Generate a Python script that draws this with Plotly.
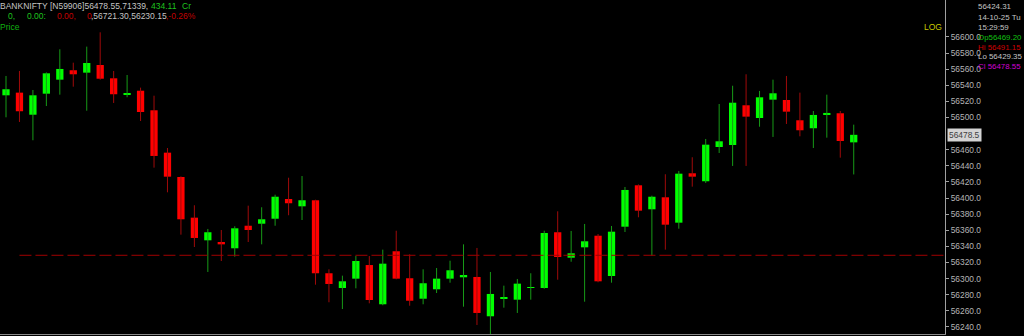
import plotly.graph_objects as go

# ---- data ----
opens = [56527.6, 56530.9, 56503.5, 56529.6, 56547.0, 56558.7, 56555.7, 56565.2, 56548.7, 56528.4,
         56533.3, 56509.0, 56456.4, 56426.2, 56375.7, 56347.6, 56345.5, 56337.7, 56365.7, 56368.2,
         56374.4, 56398.9, 56389.8, 56397.3, 56306.7, 56288.4, 56300.0, 56316.9, 56268.2, 56334.0,
         56300.5, 56275.1, 56286.8, 56300.0, 56301.7, 56302.1, 56253.3, 56275.6, 56273.9, 56288.4,
         56288.4, 56357.6, 56326.0, 56338.9, 56353.3, 56303.3, 56364.5, 56415.9, 56386.1, 56401.0,
         56369.5, 56430.8, 56420.9, 56463.4, 56465.9, 56515.2, 56499.4, 56522.2, 56521.8, 56496.6,
         56486.7, 56504.0, 56505.3, 56469.20]
highs = [56551.6, 56557.8, 56534.2, 56556.0, 56584.7, 56568.1, 56588.0, 56605.8, 56557.8, 56552.8,
         56537.1, 56527.1, 56462.2, 56427.0, 56391.1, 56361.7, 56360.4, 56365.0, 56390.6, 56388.6,
         56404.2, 56425.3, 56427.4, 56398.0, 56311.6, 56303.7, 56328.1, 56328.1, 56336.0, 56359.5,
         56330.2, 56311.6, 56313.2, 56322.3, 56342.6, 56338.1, 56308.3, 56291.3, 56299.6, 56306.7,
         56359.5, 56383.6, 56359.2, 56367.9, 56355.4, 56365.4, 56413.8, 56417.0, 56403.0, 56429.6,
         56433.7, 56450.7, 56473.4, 56516.8, 56539.5, 56553.7, 56533.0, 56547.0, 56551.6, 56530.9,
         56508.1, 56528.4, 56508.1, 56491.15]
lows = [56500.3, 56494.5, 56471.8, 56514.3, 56528.4, 56538.3, 56508.5, 56547.0, 56518.1, 56525.2,
        56495.7, 56437.8, 56407.2, 56354.6, 56339.3, 56308.3, 56321.9, 56327.3, 56345.5, 56342.6,
        56365.7, 56378.7, 56372.8, 56292.5, 56270.7, 56262.3, 56288.0, 56269.4, 56267.0, 56299.2,
        56266.4, 56268.2, 56282.2, 56295.0, 56265.2, 56242.5, 56231.3, 56264.0, 56257.4, 56273.9,
        56287.5, 56298.7, 56321.0, 56271.4, 56295.5, 56295.0, 56357.9, 56376.2, 56328.5, 56336.0,
        56362.0, 56414.2, 56418.8, 56456.0, 56439.9, 56439.9, 56488.6, 56475.9, 56492.0, 56476.7,
        56462.2, 56475.0, 56450.2, 56429.35]
closes = [56535.1, 56507.8, 56527.6, 56554.9, 56560.3, 56553.7, 56567.7, 56548.2, 56528.9, 56530.5,
          56506.9, 56452.3, 56426.6, 56373.7, 56350.5, 56357.6, 56342.6, 56362.5, 56360.4, 56373.7,
          56401.7, 56393.6, 56397.3, 56306.7, 56293.4, 56296.7, 56321.9, 56273.5, 56318.6, 56300.0,
          56272.6, 56294.3, 56300.0, 56310.4, 56304.5, 56257.4, 56281.0, 56276.4, 56293.8, 56289.6,
          56356.7, 56326.9, 56331.5, 56346.4, 56296.7, 56358.3, 56410.1, 56384.4, 56401.7, 56367.0,
          56430.3, 56426.6, 56466.3, 56470.5, 56518.4, 56501.1, 56525.1, 56530.1, 56507.3, 56484.2,
          56503.2, 56505.7, 56470.9, 56478.55]

level_price = 56329.0          # dashed horizontal level
level_start = 1                # candle index where it starts
price_ticks = [56240, 56260, 56280, 56300, 56320, 56340, 56360, 56380, 56400, 56420,
               56440, 56460, 56500, 56520, 56540, 56560, 56580, 56600]

header_line1 = "BANKNIFTY [N59906]56478.55,71339,"
header_turnover = "434.11"
header_cr = "Cr"
info_last = "56424.31"
info_date = "14-10-25 Tu"
info_time = "15:29:59"
info_open = "Op56469.20"
info_high = "Hi 56491.15"
info_low = "Lo 56429.35"
info_close = "Cl 56478.55"
last_label = "56478.5"

# ---- figure geometry ----
W, H = 1024, 336
PL, PR, PT, PB = 0, 945, 0, 334   # plot area in pixels
n = len(opens)
idx = list(range(n))
UP_BODY, DN_BODY = "#00ff00", "#ff0000"
UP_WICK, DN_WICK = "#179a17", "#a00a0a"

fig = go.Figure()

# wicks
for up, col in ((True, UP_WICK), (False, DN_WICK)):
    xs, ys = [], []
    for i in idx:
        if (closes[i] >= opens[i]) == up:
            xs += [i, i, None]
            ys += [lows[i], highs[i], None]
    fig.add_trace(go.Scatter(x=xs, y=ys, mode="lines", line=dict(color=col, width=1),
                             hoverinfo="skip", showlegend=False))

# bodies
fig.add_trace(go.Bar(
    x=idx,
    base=[min(o, c) for o, c in zip(opens, closes)],
    y=[max(abs(c - o), 1.2) for o, c in zip(opens, closes)],
    width=0.54,
    marker=dict(color=[UP_BODY if c >= o else DN_BODY for o, c in zip(opens, closes)],
                line=dict(width=0)),
    showlegend=False, hoverinfo="skip"))

# dashed level line
fig.add_trace(go.Scatter(x=[level_start, n + 8], y=[level_price, level_price], mode="lines",
                         line=dict(color="#a00000", width=1, dash="12px,4px"),
                         hoverinfo="skip", showlegend=False))

px_per_unit = 13.456
x0 = 6.0
xr = [(PL - x0) / px_per_unit, (PR - x0) / px_per_unit]
yr = [56231.3, 56645.9]

fig.update_layout(
    width=W, height=H,
    margin=dict(l=PL, r=W - PR, t=PT, b=H - PB, pad=0),
    paper_bgcolor="black", plot_bgcolor="black",
    showlegend=False,
    font=dict(family="Liberation Sans, Arial, sans-serif"),
    xaxis=dict(range=xr, showgrid=False, zeroline=False, showticklabels=False, ticks="",
               showline=True, linecolor="#8a8a8a", linewidth=1, mirror=False, fixedrange=True),
    yaxis=dict(range=yr, side="right", showgrid=False, zeroline=False,
               showline=True, linecolor="#a0a0a0", linewidth=1,
               ticks="outside", ticklen=3, tickcolor="#a0a0a0",
               tickvals=price_ticks, ticktext=[f"{t:.1f}" for t in price_ticks],
               tickfont=dict(size=8.4, color="#b4b4b4", family="Liberation Sans, Arial"),
               fixedrange=True),
)

def px_x(px):
    return (px - PL) / (PR - PL)

def px_y(py):
    return 1 - (py - PT) / (PB - PT)

def label(px, py, text, color, size=8.5, anchor="left"):
    fig.add_annotation(x=px_x(px), y=px_y(py), xref="paper", yref="paper",
                       text=text, showarrow=False, xanchor=anchor, yanchor="middle",
                       font=dict(size=size, color=color, family="Liberation Sans, Arial"),
                       borderpad=0)

GRAY, GREEN, RED = "#c4c4c4", "#1ec21e", "#c40000"
label(-1, 6, header_line1, GRAY)
label(150, 6, header_turnover, GREEN)
label(181, 6, header_cr, GREEN)
label(7, 16, "0,", GREEN)
label(26, 16, "0.00:", GREEN)
label(56, 16, "0.00,", RED)
label(86, 16, "0", RED)
label(90, 16, ",56721.30,56230.15", GRAY)
label(165, 16, ",-0.26%", RED)
label(-1, 27, "Price", "#10b010")
label(943, 27, "LOG", "#c8c800", anchor="right")

INFO_X, INFO_S = 977, 7.9
label(INFO_X, 6, info_last, GRAY, INFO_S)
label(INFO_X, 17, info_date, GRAY, INFO_S)
label(INFO_X, 27, info_time, GRAY, INFO_S)
label(INFO_X, 37, info_open, "#10c010", INFO_S)
label(INFO_X, 47, info_high, "#d00000", INFO_S)
label(INFO_X, 57, info_low, GRAY, INFO_S)
label(INFO_X, 67, info_close, "#d000d0", INFO_S)

fig.add_annotation(x=1, xref="paper", y=closes[-1], yref="y", text=last_label,
                   showarrow=False, xanchor="left", yanchor="middle", xshift=2,
                   bgcolor="#d4d4d4", borderpad=1,
                   font=dict(size=8.4, color="#404040", family="Liberation Sans, Arial"))

fig.write_html("out.html")
